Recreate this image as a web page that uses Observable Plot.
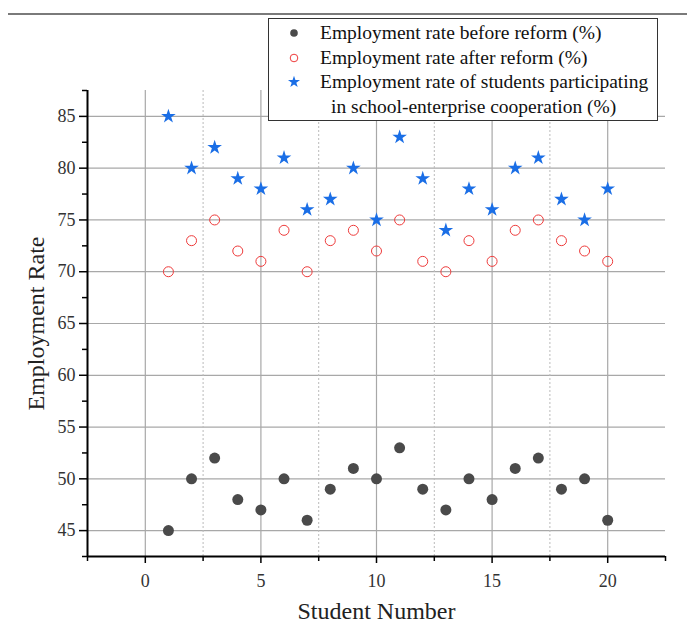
<!DOCTYPE html>
<html>
<head>
<meta charset="utf-8">
<script src="https://cdn.jsdelivr.net/npm/d3@7"></script>
<script src="https://cdn.jsdelivr.net/npm/@observablehq/plot@0.6"></script>
<style>
  body { margin: 0; background: #fff; }
  #wrap { position: relative; width: 687px; height: 623px; }
  #topline { position: absolute; left: 8px; top: 13px; width: 679px; height: 2px; background: #7a7a7a; }
  #legend { position: absolute; left: 268px; top: 18px; width: 388px; height: 101px; background: #fff;
    border: 1px solid #333; font-family: "Liberation Serif", "DejaVu Serif", serif; font-size: 19.5px; color: #111; }
  .row { position: absolute; left: 0; height: 24px; line-height: 24px; white-space: nowrap; }
  .row svg { position: absolute; left: 18px; top: 5px; }
  .row span { position: absolute; left: 51px; }
</style>
</head>
<body>
<div id="wrap">
  <div id="chart"></div>
  <div id="topline"></div>
  <div id="legend"></div>
</div>
<script>
const students = [1,2,3,4,5,6,7,8,9,10,11,12,13,14,15,16,17,18,19,20];
const before = [45,50,52,48,47,50,46,49,51,50,53,49,47,50,48,51,52,49,50,46];
const after = [70,73,75,72,71,74,70,73,74,72,75,71,70,73,71,74,75,73,72,71];
const coop = [85,80,82,79,78,81,76,77,80,75,83,79,74,78,76,80,81,77,75,78];
const seriesNames = [
  "Employment rate before reform (%)",
  "Employment rate after reform (%)",
  "Employment rate of students participating",
  "in school-enterprise cooperation (%)"
];
const yTicks = [45,50,55,60,65,70,75,80,85];
const yMinor = [42.5,47.5,52.5,57.5,62.5,67.5,72.5,77.5,82.5,87.5];
const xTicks = [0,5,10,15,20];
const xMinor = [-2.5,2.5,7.5,12.5,17.5,22.5];
const xDotted = [2.5,7.5,12.5,17.5];

const cBefore = "#4a4a4a", cAfter = "#ee3b3b", cCoop = "#1a6ee6";
const rows = students.map((s,i)=>({s, before: before[i], after: after[i], coop: coop[i]}));
const serif = "Liberation Serif, DejaVu Serif, serif";

const chart = Plot.plot({
  width: 687, height: 623,
  marginLeft: 87, marginRight: 22, marginTop: 90, marginBottom: 67,
  style: {fontFamily: serif, background: "#fff"},
  x: {domain: [-2.5, 22.5]},
  y: {domain: [42.5, 87.5]},
  marks: [
    Plot.gridY(yTicks, {stroke: "#a8a8a8", strokeOpacity: 1, strokeWidth: 1.2}),
    Plot.gridX(xTicks, {stroke: "#a8a8a8", strokeOpacity: 1, strokeWidth: 1.2}),
    Plot.gridX(xDotted, {stroke: "#bbb", strokeOpacity: 1, strokeWidth: 1, strokeDasharray: "2,2"}),
    Plot.axisY(yTicks, {tickSize: 8, tickPadding: 4, fontSize: 18, color: "#333", stroke: "#000", strokeWidth: 1.5,
      label: "Employment Rate", labelAnchor: "center", labelOffset: 61, labelArrow: "none"}),
    Plot.axisY(yMinor, {tickSize: 5, text: null, stroke: "#000", strokeWidth: 1.5, label: null}),
    Plot.axisX(xTicks, {tickSize: 7, tickPadding: 11, fontSize: 18, color: "#333", stroke: "#000", strokeWidth: 1.5,
      label: "Student Number", labelAnchor: "center", labelOffset: 62, labelArrow: "none"}),
    Plot.axisX(xMinor, {tickSize: 5, text: null, stroke: "#000", strokeWidth: 1.5, label: null}),
    Plot.ruleX([-2.5], {stroke: "#000", strokeWidth: 2}),
    Plot.ruleY([42.5], {stroke: "#000", strokeWidth: 2}),
    Plot.dot(rows, {x: "s", y: "before", r: 5.5, fill: cBefore, stroke: "none"}),
    Plot.dot(rows, {x: "s", y: "after", r: 5, fill: "none", stroke: cAfter, strokeWidth: 1}),
    Plot.dot(rows, {x: "s", y: "coop", symbol: "star", r: 4.6, fill: cCoop, stroke: "none"})
  ]
});
chart.querySelectorAll("[aria-label='y-axis label'] text, [aria-label='x-axis label'] text").forEach(t => {
  t.setAttribute("font-size", "24"); t.style.fontSize = "24px"; t.setAttribute("fill", "#222");
});
document.getElementById("chart").append(chart);

// legend
const lg = d3.select("#legend");
const sym = [
  g => g.append("circle").attr("cx",7).attr("cy",7).attr("r",3.8).attr("fill",cBefore),
  g => g.append("circle").attr("cx",7).attr("cy",7).attr("r",3.8).attr("fill","none").attr("stroke",cAfter),
  g => g.append("path").attr("transform","translate(7,7)").attr("d", d3.symbol(d3.symbolStar, 45)()).attr("fill",cCoop),
  null
];
seriesNames.forEach((name,i)=>{
  const r = lg.append("div").attr("class","row").style("top", (2 + i*24.5) + "px").style("width","100%");
  if (sym[i]) { const s = r.append("svg").attr("width",14).attr("height",14); sym[i](s); }
  r.append("span").style("left", i===3 ? "62px" : "51px").text(name);
});
</script>
</body>
</html>
